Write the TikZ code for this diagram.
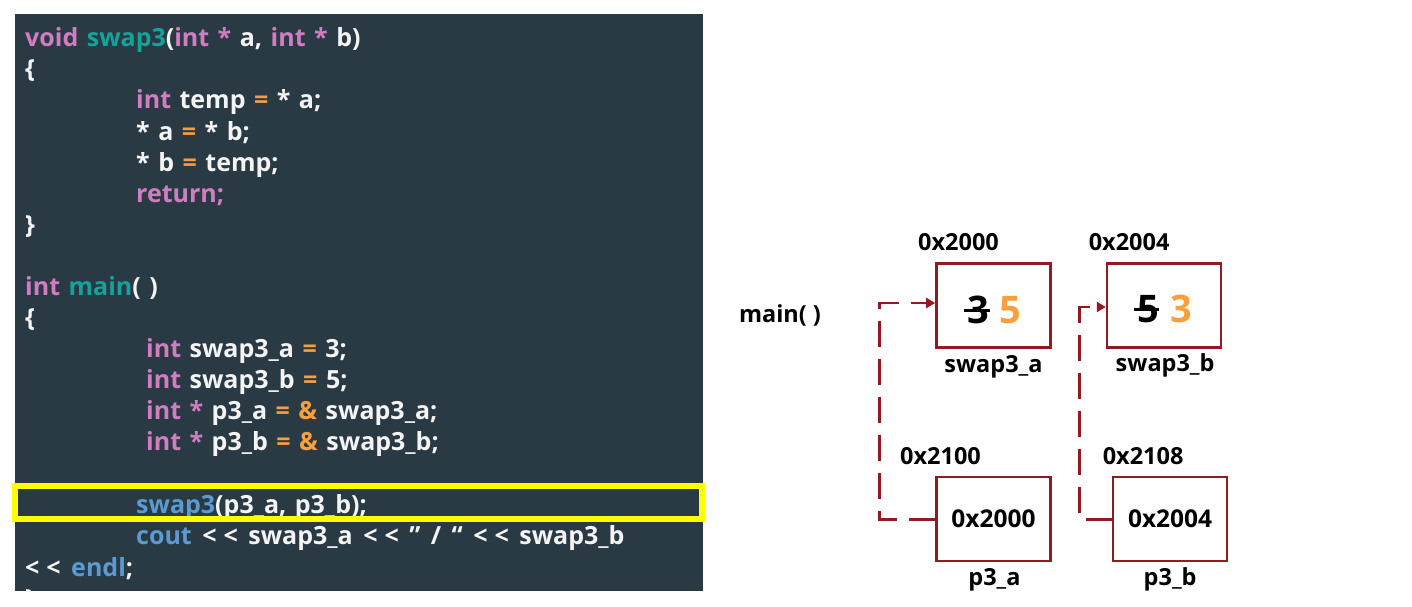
\documentclass[tikz,border=0pt]{standalone}
\usepackage{fontspec}
\setmainfont{Open Sans}
\usepackage{tikz}
\usetikzlibrary{arrows.meta,positioning,calc}
\definecolor{SlateBg}{HTML}{2A3A44}
\definecolor{KeyPink}{HTML}{D07EC1}
\definecolor{FnTeal}{HTML}{14A398}
\definecolor{OpOrange}{HTML}{F9A03C}
\definecolor{CallBlue}{HTML}{5B9BD0}
\definecolor{CodeWhite}{HTML}{F4F4F4}
\definecolor{Crimson}{HTML}{921B22}
\definecolor{Marker}{HTML}{FFFF00}
\newcommand{\kw}[1]{\textcolor{KeyPink}{#1}}
\newcommand{\fn}[1]{\textcolor{FnTeal}{#1}}
\newcommand{\op}[1]{\textcolor{OpOrange}{#1}}
\newcommand{\callkw}[1]{\textcolor{CallBlue}{#1}}
\newcommand{\shl}{<\kern7pt<}
\newcommand{\codefont}{\fontsize{25}{30}\selectfont\bfseries\spaceskip=0.34em\relax}
\newcommand{\widespace}{\spaceskip=0.42em\relax}

\begin{document}
\begin{tikzpicture}[
    x=1pt,y=-1pt,
    code/.style={anchor=base west,inner sep=0pt,text=CodeWhite,font=\codefont},
    cell/.style={draw=Crimson,line width=2.6pt,minimum width=114pt,minimum height=84pt,inner sep=0pt,font=\fontsize{24.5}{28}\selectfont\bfseries},
    addr/.style={inner sep=0pt,font=\fontsize{23.5}{28}\selectfont\bfseries},
    value/.style={inner sep=0pt,text depth=0pt,font=\fontsize{38}{44}\selectfont\bfseries},
    strike/.style={line width=3pt,black},
    ptr/.style={Crimson,line width=2.8pt,dash pattern=on 26pt off 12pt,-{Triangle[length=9pt,width=10pt]}},
    hilite/.style={Marker,line width=6pt}
  ]
    \useasboundingbox (0,0) rectangle (1412,607);
    \fill[SlateBg] (15,14) rectangle (703,591);

    % code listing
    \begin{scope}
    \clip (15,14) rectangle (703,591);
    \node[code] (line1) at (25,47) {\kw{void} \fn{swap3}(\kw{int *} a, \kw{int *} b)};
    \node[code] (line2) at (25,78) {\{};
    \node[code] (line3) at (136,109) {\kw{int} temp \op{=} * a;};
    \node[code] (line4) at (136,140) {* a \op{=} * b;};
    \node[code] (line5) at (136,171) {* b \op{=} temp;};
    \node[code] (line6) at (136,202) {\kw{return;}};
    \node[code] (line7) at (25,233) {\}};
    \node[code] (line8) at (25,295) {\kw{int} \fn{main}( )};
    \node[code] (line9) at (25,326) {\{};
    \node[code] (line10) at (146,357) {\kw{int} swap3\_a \op{=} 3;};
    \node[code] (line11) at (146,388) {\kw{int} swap3\_b \op{=} 5;};
    \node[code] (line12) at (146,419) {\kw{int *} p3\_a \op{=} \op{\&} swap3\_a;};
    \node[code] (line13) at (146,450) {\kw{int *} p3\_b \op{=} \op{\&} swap3\_b;};
    \node[code] (line15) at (136,513) {\callkw{swap3}(p3\_a, p3\_b);};
    \node[code] (line16) at (136,544) {\widespace\callkw{cout} \shl{} swap3\_a \shl{} ” / “ \shl{} swap3\_b};
    \node[code] (line17) at (25,576) {\widespace\shl{} \callkw{endl};};
    \node[code] (line18) at (25,607) {\}};
    \end{scope}
    \draw[hilite] (14.5,486) rectangle (702,519);

    % memory picture
    \node[addr] (mainlbl) at (780,315) {main( )};
    \node[cell] (boxa) at (993.5,305.5) {};
    \node[cell,right=54pt of boxa] (boxb) {};
    \node[cell,below=127pt of boxa] (p3a) {0x2000};
    \node[cell,below=127pt of boxb,xshift=6pt] (p3b) {0x2004};

    \node[addr] (adra) at ($(boxa.north)+(-35,-20)$) {0x2000};
    \node[addr] (adrb) at ($(boxb.north)+(-35,-20)$) {0x2004};
    \node[addr] (adrc) at ($(p3a.north)+(-53,-20)$) {0x2100};
    \node[addr] (adrd) at ($(p3b.north)+(-27,-20)$) {0x2108};

    \node[addr] (namea) at ($(boxa.south)+(0,18)$) {swap3\_a};
    \node[addr] (nameb) at ($(boxb.south)+(1,17)$) {swap3\_b};
    \node[addr] (namec) at ($(p3a.south)+(1,17)$) {p3\_a};
    \node[addr] (named) at ($(p3b.south)+(0,17)$) {p3\_b};

    \node[value] (olda) at ($(boxa.center)+(-15,4.5)$) {3};
    \node[value,text=OpOrange] (newa) at ($(boxa.center)+(17,4.5)$) {5};
    \node[value] (oldb) at ($(boxb.center)+(-16,3.5)$) {5};
    \node[value,text=OpOrange] (newb) at ($(boxb.center)+(17,3.5)$) {3};
    \draw[strike] ([xshift=-3pt]olda.west) -- (olda.east);
    \draw[strike] ([xshift=-3pt]oldb.west) -- (oldb.east);

    \draw[ptr] (p3a.west) -- ++(-56,0) |- ([yshift=2.5pt]boxa.west);
    \draw[ptr] (p3b.west) -- ++(-32,0) |- ([yshift=-1.5pt]boxb.west);
  \end{tikzpicture}
\end{document}
